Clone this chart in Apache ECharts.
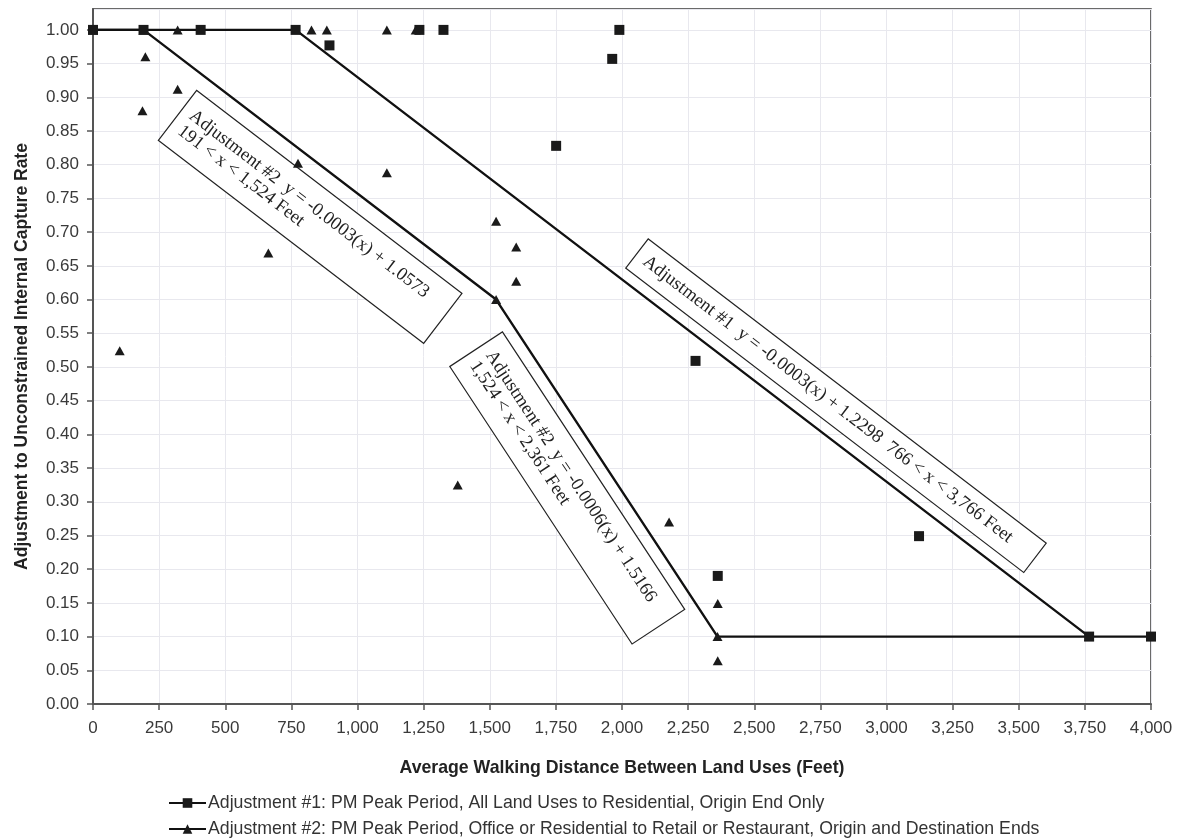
<!DOCTYPE html>
<html>
<head>
<meta charset="utf-8">
<script src="https://cdn.jsdelivr.net/npm/echarts@6/dist/echarts.min.js"></script>
<style>
html,body{margin:0;padding:0;background:#fff;}
#chart{width:1180px;height:840px;}
</style>
</head>
<body>
<div id="chart"></div>
<script>
// ---- data ----
const seriesNames = [
  "Adjustment #1: PM Peak Period, All Land Uses to Residential, Origin End Only",
  "Adjustment #2: PM Peak Period, Office or Residential to Retail or Restaurant, Origin and Destination Ends"
];
const xTitle = "Average Walking Distance Between Land Uses (Feet)";
const yTitle = "Adjustment to Unconstrained Internal Capture Rate";

// piecewise adjustment curves (vertices)
const adj1Line = [[0, 1.00], [766, 1.00], [3766, 0.10], [4000, 0.10]];
const adj2Line = [[0, 1.00], [191, 1.00], [1524, 0.60], [2361, 0.10], [3766, 0.10]];

// observed data points
const adj1Points = [
  [191, 1.00], [407, 1.00], [894, 0.977], [1234, 1.00], [1325, 1.00],
  [1751, 0.828], [1963, 0.957], [1990, 1.00], [2278, 0.509], [2362, 0.19], [3123, 0.249]
];
const adj2Points = [
  [101, 0.524], [187, 0.88], [198, 0.96], [320, 1.00], [320, 0.912], [663, 0.669],
  [775, 0.802], [826, 1.00], [884, 1.00], [1111, 1.00], [1111, 0.788], [1220, 1.00],
  [1379, 0.325], [1524, 0.716], [1600, 0.678], [1600, 0.627], [2178, 0.27],
  [2362, 0.149], [2362, 0.064]
];

// equation annotations
const annoLines = [
  ["Adjustment #2  y = -0.0003(x) + 1.0573", "191 < x < 1,524 Feet"],
  ["Adjustment #2  y = -0.0006(x) + 1.5166", "1,524 < x < 2,361 Feet"],
  ["Adjustment #1  y = -0.0003(x) + 1.2298  766 < x < 3,766 Feet"]
];

// ---- chart ----
const chart = echarts.init(document.getElementById('chart'));
const sans = "'Liberation Sans', Arial, sans-serif";
const serif = "'Liberation Serif', 'Times New Roman', serif";
const YMAX = 1.031;

const legendBase = {
  orient: 'horizontal', left: 168, padding: 0,
  itemWidth: 37, itemHeight: 12,
  textStyle: {fontFamily: sans, fontSize: 17.7, color: '#333', padding: [0, 0, 0, -3]},
  selectedMode: false
};

chart.setOption({
  animation: false,
  backgroundColor: '#fff',
  grid: {left: 93, right: 29, top: 9, bottom: 136, show: true, borderColor: '#3a3a3a', borderWidth: 1.5, backgroundColor: 'transparent'},
  legend: [
    Object.assign({}, legendBase, {data: [seriesNames[0]], top: 794}),
    Object.assign({}, legendBase, {data: [seriesNames[1]], top: 820})
  ],
  xAxis: {
    type: 'value', min: 0, max: 4000, interval: 250,
    name: xTitle, nameLocation: 'middle', nameGap: 55,
    nameTextStyle: {fontFamily: sans, fontSize: 17.7, fontWeight: 'bold', color: '#222'},
    axisLine: {show: true, lineStyle: {color: '#555', width: 2}},
    axisTick: {show: true, length: 6, lineStyle: {color: '#555', width: 1.5}},
    axisLabel: {fontFamily: sans, fontSize: 17, color: '#3a3a3a', margin: 16,
      formatter: v => v.toLocaleString('en-US')},
    splitLine: {show: true, lineStyle: {color: '#e8e8ee', width: 1}}
  },
  yAxis: {
    type: 'value', min: 0, max: YMAX, interval: 0.05,
    name: yTitle, nameLocation: 'middle', nameGap: 62,
    nameTextStyle: {fontFamily: sans, fontSize: 17.5, fontWeight: 'bold', color: '#222'},
    axisLine: {show: true, lineStyle: {color: '#555', width: 2}},
    axisTick: {show: true, length: 6, lineStyle: {color: '#555', width: 1.5}},
    axisLabel: {fontFamily: sans, fontSize: 17, color: '#3a3a3a', margin: 14, showMaxLabel: false,
      formatter: v => v > 1.001 ? '' : v.toFixed(2)},
    splitLine: {show: true, lineStyle: {color: '#e8e8ee', width: 1}}
  },
  series: [
    {name: seriesNames[0], type: 'line', data: adj1Line, z: 4,
      symbol: 'rect', symbolSize: 10, showAllSymbol: true,
      lineStyle: {color: '#111', width: 2.4}, itemStyle: {color: '#1a1a1a'}},
    {name: seriesNames[1], type: 'line', data: adj2Line, z: 3,
      symbol: 'triangle', symbolSize: [10, 9], showAllSymbol: true,
      lineStyle: {color: '#111', width: 2.4}, itemStyle: {color: '#1a1a1a'}},
    {name: seriesNames[0], type: 'scatter', data: adj1Points, z: 5,
      symbol: 'rect', symbolSize: 10, itemStyle: {color: '#1a1a1a', opacity: 1}},
    {name: seriesNames[1], type: 'scatter', data: adj2Points, z: 5,
      symbol: 'triangle', symbolSize: [10, 9], itemStyle: {color: '#1a1a1a', opacity: 1}}
  ]
});

// place rotated annotation boxes along segments of the curves
function px(p) { return chart.convertToPixel({gridIndex: 0}, p); }
const annoSpecs = [
  {seg: [adj2Line[1], adj2Line[2]], center: [821, 0.7226], w: 334, h: 63, lines: annoLines[0]},
  {seg: [adj2Line[2], adj2Line[3]], center: [1793, 0.3205], w: 332, h: 63, lines: annoLines[1]},
  {seg: [adj1Line[1], adj1Line[2]], center: [2809, 0.4426], w: 501, h: 37, lines: annoLines[2]}
];
const graphics = annoSpecs.map(a => {
  const p1 = px(a.seg[0]), p2 = px(a.seg[1]);
  const ang = Math.atan2(p2[1] - p1[1], p2[0] - p1[0]);
  const c = px(a.center);
  const children = [{
    type: 'rect', shape: {x: -a.w / 2, y: -a.h / 2, width: a.w, height: a.h},
    style: {fill: '#fff', stroke: '#222', lineWidth: 1.2}
  }];
  const lh = 19;
  const startY = -((a.lines.length - 1) * lh) / 2;
  a.lines.forEach((t, i) => {
    children.push({
      type: 'text', x: -a.w / 2 + 10, y: startY + i * lh,
      style: {text: t, font: "18.5px " + serif, fill: '#222', align: 'left', verticalAlign: 'middle'}
    });
  });
  return {type: 'group', x: c[0], y: c[1], rotation: -ang, z: 1, children: children};
});
chart.setOption({graphic: {elements: graphics}});
</script>
</body>
</html>
